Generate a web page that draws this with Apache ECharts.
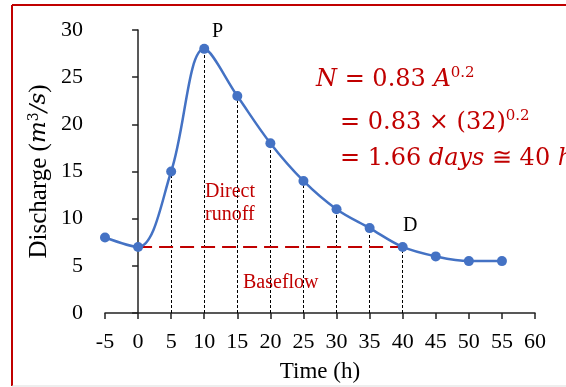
<!DOCTYPE html>
<html>
<head>
<meta charset="utf-8">
<script src="https://cdn.jsdelivr.net/npm/echarts@6/dist/echarts.min.js"></script>
<style>
html,body{margin:0;padding:0;background:#fff;}
#chart{width:566px;height:387px;}
</style>
</head>
<body>
<div id="chart"></div>
<script>
// Data
var times = [-5, 0, 5, 10, 15, 20, 25, 30, 35, 40, 45, 50, 55];
var discharge = [8, 7, 15, 28, 23, 18, 14, 11, 9, 7, 6, 5.5, 5.5];
var dropTimes = [5, 10, 15, 20, 25, 30, 35, 40];
var baseflowLevel = 7;
var baseflowStart = 0;
var baseflowEnd = 40;
var xTicks = { min: -5, max: 60, interval: 5 };
var yTicks = { min: 0, max: 30, interval: 5 };

var points = times.map(function (t, i) { return [t, discharge[i]]; });
var dropLines = dropTimes.map(function (t) {
  var q = discharge[times.indexOf(t)];
  return [{ coord: [t, 0] }, { coord: [t, q] }];
});

var RED = '#C00000';
var SERIF = '"Liberation Serif", "Times New Roman", serif';
var MATH = '"DejaVu Serif", serif';

var chart = echarts.init(document.getElementById('chart'), null, { renderer: 'canvas' });
chart.setOption({
  animation: false,
  backgroundColor: '#fff',
  grid: { left: 105, right: 31, top: 30, bottom: 74, containLabel: false, outerBoundsMode: 'none' },
  xAxis: {
    type: 'value',
    min: xTicks.min, max: xTicks.max, interval: xTicks.interval,
    name: 'Time (h)',
    nameLocation: 'middle',
    nameGap: 47,
    nameMoveOverlap: false,
    nameTextStyle: { fontFamily: SERIF, fontSize: 23, color: '#000' },
    axisLine: { onZero: false, lineStyle: { color: '#222', width: 1.5 } },
    axisTick: { show: true, length: 6, lineStyle: { color: '#222', width: 1.5 } },
    axisLabel: { fontFamily: SERIF, fontSize: 22, color: '#000', margin: 18 },
    splitLine: { show: false }
  },
  yAxis: {
    type: 'value',
    min: yTicks.min, max: yTicks.max, interval: yTicks.interval,
    name: '{r|Discharge (}{i|m}{s|3}{i|/s}{r|)}',
    nameLocation: 'middle',
    nameGap: 53,
    nameMoveOverlap: false,
    nameTextStyle: {
      color: '#000',
      rich: {
        r: { fontFamily: SERIF, fontSize: 25, color: '#000' },
        i: { fontFamily: MATH, fontStyle: 'italic', fontSize: 23, color: '#000' },
        s: { fontFamily: MATH, fontSize: 14, color: '#000', verticalAlign: 'top', padding: [0, 0, 11, 0] }
      }
    },
    axisLine: { show: true, onZero: true, lineStyle: { color: '#222', width: 1.5 } },
    axisTick: { show: true, length: 6, lineStyle: { color: '#222', width: 1.5 } },
    axisLabel: { fontFamily: SERIF, fontSize: 22, color: '#000', margin: 22 },
    splitLine: { show: false }
  },
  series: [
    {
      type: 'line',
      data: points,
      smooth: 0.35,
      symbol: 'circle',
      symbolSize: 10,
      itemStyle: { color: '#4472C4' },
      lineStyle: { color: '#4472C4', width: 2.5 },
      z: 5,
      markLine: {
        silent: true,
        symbol: ['none', 'none'],
        label: { show: false },
        lineStyle: { color: '#000', width: 1, type: [3, 2] },
        data: dropLines,
        z: 1
      }
    },
    {
      type: 'line',
      data: [],
      markLine: {
        silent: true,
        symbol: ['none', 'none'],
        label: { show: false },
        lineStyle: { color: RED, width: 2, type: [14, 7] },
        data: [[{ coord: [baseflowStart, baseflowLevel] }, { coord: [baseflowEnd, baseflowLevel] }]],
        z: 3
      }
    }
  ],
  graphic: [
    { type: 'line', shape: { x1: 12, y1: 5, x2: 566, y2: 5 }, style: { stroke: RED, lineWidth: 2 } },
    { type: 'line', shape: { x1: 12, y1: 5, x2: 12, y2: 386 }, style: { stroke: RED, lineWidth: 2 } },
    { type: 'line', shape: { x1: 12, y1: 386, x2: 566, y2: 386 }, style: { stroke: '#ddd', lineWidth: 1 } },
    { type: 'text', left: 212, top: 22, style: { text: 'P', font: '20px ' + SERIF, fill: '#000' } },
    { type: 'text', left: 403, top: 216, style: { text: 'D', font: '20px ' + SERIF, fill: '#000' } },
    { type: 'text', left: 205, top: 180, style: { text: 'Direct\nrunoff', font: '20px ' + SERIF, fill: RED, lineHeight: 23 } },
    { type: 'text', left: 243, top: 273, style: { text: 'Baseflow', font: '20px ' + SERIF, fill: RED } },
    {
      type: 'text', left: 316, top: 66,
      style: {
        text: '{i|N} = 0.83 {i|A}{s|0.2}',
        fill: RED,
        font: '24px ' + MATH,
        rich: {
          i: { fontFamily: MATH, fontStyle: 'italic', fontSize: 24, fill: RED },
          s: { fontFamily: MATH, fontSize: 15, fill: RED, verticalAlign: 'top', padding: [0, 0, 12, 0] }
        }
      }
    },
    {
      type: 'text', left: 340, top: 109,
      style: {
        text: '= 0.83 \u00d7 (32){s|0.2}',
        fill: RED,
        font: '24px ' + MATH,
        rich: {
          s: { fontFamily: MATH, fontSize: 15, fill: RED, verticalAlign: 'top', padding: [0, 0, 12, 0] }
        }
      }
    },
    {
      type: 'text', left: 340, top: 147,
      style: {
        text: '= 1.66 {i|days} \u2245 40 {i|h}',
        fill: RED,
        font: '24px ' + MATH,
        rich: {
          i: { fontFamily: MATH, fontStyle: 'italic', fontSize: 24, fill: RED }
        }
      }
    }
  ]
});
</script>
</body>
</html>
